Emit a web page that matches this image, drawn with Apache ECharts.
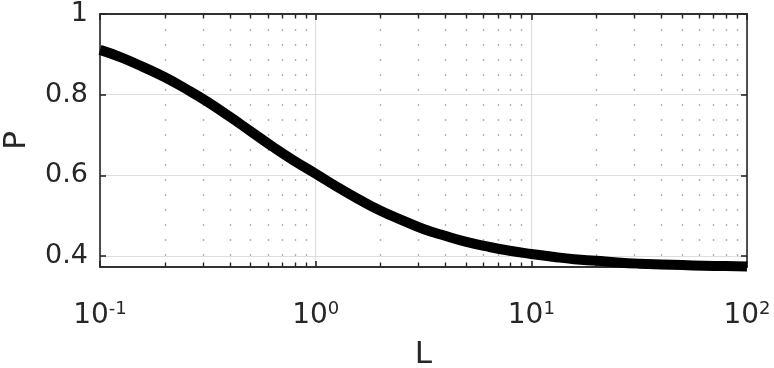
<!DOCTYPE html>
<html>
<head>
<meta charset="utf-8">
<script src="https://cdn.jsdelivr.net/npm/echarts@6/dist/echarts.min.js"></script>
<style>html,body{margin:0;padding:0;background:#fff}#c{width:774px;height:368px}</style>
</head>
<body>
<div id="c"></div>
<script>
// Data
const L = [0.1, 0.126, 0.158, 0.2, 0.251, 0.316, 0.398, 0.5, 0.631, 0.794,
           1, 1.26, 1.58, 2, 2.51, 3.16, 3.98, 5, 6.31, 7.94,
           10, 12.6, 15.8, 20, 25.1, 31.6, 39.8, 50, 63.1, 79.4, 100];
const P = [0.911, 0.892, 0.869, 0.843, 0.814, 0.782, 0.746, 0.709, 0.671, 0.636,
           0.604, 0.571, 0.541, 0.512, 0.489, 0.467, 0.450, 0.435, 0.423, 0.413,
           0.405, 0.398, 0.392, 0.388, 0.384, 0.381, 0.379, 0.3775, 0.376, 0.375, 0.374];
const xMajorTicks = [0.1, 1, 10, 100];
const xTickExponents = ['-1', '0', '1', '2'];
const xMinorTicks = [0.2,0.3,0.4,0.5,0.6,0.7,0.8,0.9,2,3,4,5,6,7,8,9,20,30,40,50,60,70,80,90];
const yTicks = [0.4, 0.6, 0.8, 1];
const yTickLabels = ['0.4', '0.6', '0.8', '1'];
const xRange = [0.1, 100];
const yRange = [0.3727, 1];

const axisColor = '#262626';
const font = 'DejaVu Sans';

function xAxisBase(pos) {
  return {
    type: 'log', logBase: 10, min: xRange[0], max: xRange[1], position: pos,
    axisLine: { show: true, onZero: false, lineStyle: { color: axisColor, width: 1.6 } },
    axisTick: { show: true, inside: true, length: 6, lineStyle: { color: axisColor, width: 1.6 } },
    axisLabel: { show: false },
    splitLine: { show: false },
    minorTick: { show: false }
  };
}
const xMain = xAxisBase('bottom');
xMain.name = 'L';
xMain.nameLocation = 'middle';
xMain.nameGap = 72;
xMain.nameTextStyle = { fontFamily: font, fontSize: 31, color: axisColor };
xMain.axisLabel = {
  show: true, margin: 33, color: axisColor,
  formatter: function (v) {
    const i = xMajorTicks.findIndex(t => Math.abs(t - v) / t < 1e-6);
    return i < 0 ? '' : '{b|10}{s|' + xTickExponents[i] + '}';
  },
  rich: {
    b: { fontFamily: font, fontSize: 28, lineHeight: 30, verticalAlign: 'bottom', color: axisColor },
    s: { fontFamily: font, fontSize: 18, lineHeight: 14, verticalAlign: 'top', color: axisColor }
  }
};
xMain.splitLine = { show: true, lineStyle: { color: '#dedede', width: 1.2 } };

const xMinorBottom = xAxisBase('bottom');
xMinorBottom.axisTick = { show: true, inside: true, length: 4.5, customValues: xMinorTicks, lineStyle: { color: axisColor, width: 1.4 } };
xMinorBottom.splitLine = { show: true, lineStyle: { color: '#b3b3b3', width: 1.4, type: [2, 13] } };

const xTop = xAxisBase('top');
const xMinorTop = xAxisBase('top');
xMinorTop.axisTick = { show: true, inside: true, length: 4.5, customValues: xMinorTicks, lineStyle: { color: axisColor, width: 1.4 } };

function yAxisBase(pos) {
  return {
    type: 'value', min: yRange[0], max: yRange[1], position: pos,
    axisLine: { show: true, onZero: false, lineStyle: { color: axisColor, width: 1.6 } },
    axisTick: { show: true, inside: true, length: 6, customValues: yTicks, lineStyle: { color: axisColor, width: 1.6 } },
    axisLabel: { show: false },
    splitLine: { show: false }
  };
}
const yMain = yAxisBase('left');
yMain.name = 'P';
yMain.nameLocation = 'middle';
yMain.nameRotate = 90;
yMain.nameGap = 68;
yMain.nameTextStyle = { fontFamily: font, fontSize: 31, color: axisColor };
yMain.axisLabel = {
  show: true, margin: 12, customValues: yTicks, color: axisColor, fontFamily: font, fontSize: 27,
  formatter: function (v) {
    const i = yTicks.findIndex(t => Math.abs(t - v) < 1e-6);
    return i < 0 ? '' : yTickLabels[i];
  }
};
yMain.splitLine = { show: true, lineStyle: { color: '#dedede', width: 1.2 } };
const yRight = yAxisBase('right');

const chart = echarts.init(document.getElementById('c'), null, { renderer: 'canvas' });
chart.setOption({
  animation: false,
  backgroundColor: '#ffffff',
  grid: { left: 100, right: 27, top: 14, bottom: 101, containLabel: false, outerBoundsMode: 'none' },
  xAxis: [xMain, xMinorBottom, xTop, xMinorTop],
  yAxis: [yMain, yRight],
  series: [{
    type: 'line',
    xAxisIndex: 0, yAxisIndex: 0,
    data: L.map((x, i) => [x, P[i]]),
    showSymbol: false,
    smooth: 0.5,
    clip: false,
    lineStyle: { color: '#000000', width: 10, cap: 'butt', join: 'round' },
    z: 5
  }]
});
</script>
</body>
</html>
